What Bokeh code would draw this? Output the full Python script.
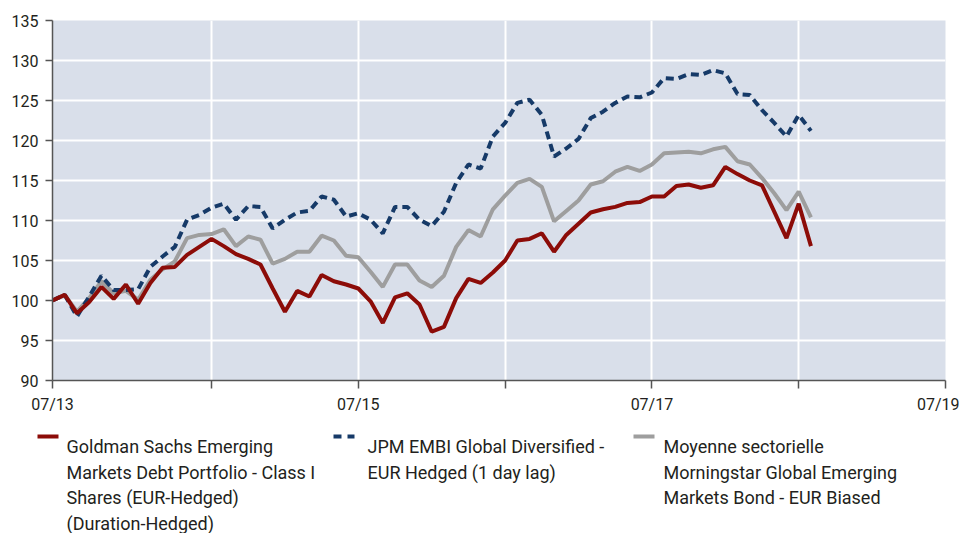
from bokeh.plotting import figure
from bokeh.layouts import column
from bokeh.models import Range1d, FixedTicker
from bokeh.core.properties import value
from bokeh.embed import file_html
from bokeh.resources import INLINE

# Monthly observations (index 0 = start of the period, mid 2013 ... Aug 2018)
months = list(range(63))

fund = [100.0, 100.7, 98.4, 99.8, 101.7, 100.2, 102.0, 99.6, 102.2, 104.1,
        104.2, 105.7, 106.7, 107.7, 106.8, 105.8, 105.2, 104.5, 101.5, 98.6,
        101.2, 100.5, 103.2, 102.4, 102.0, 101.5, 99.9, 97.2, 100.4, 100.9,
        99.5, 96.1, 96.7, 100.3, 102.7, 102.2, 103.5, 105.0, 107.5, 107.7,
        108.4, 106.1, 108.2, 109.6, 111.0, 111.4, 111.7, 112.2, 112.3, 113.0,
        113.0, 114.3, 114.5, 114.1, 114.4, 116.7, 115.8, 115.0, 114.4, 111.1,
        107.8, 112.1, 106.8]

index_jpm = [100.0, 100.7, 98.0, 100.5, 103.1, 101.3, 101.3, 101.4, 104.2, 105.5,
             106.7, 110.1, 110.7, 111.6, 112.1, 110.1, 111.8, 111.7, 109.0, 110.1,
             111.0, 111.2, 113.0, 112.6, 110.5, 110.9, 110.1, 108.4, 111.7, 111.7,
             110.1, 109.3, 111.1, 114.7, 117.0, 116.5, 120.5, 122.2, 124.7, 125.1,
             123.2, 118.0, 119.0, 120.2, 122.8, 123.6, 124.7, 125.5, 125.4, 126.0,
             127.8, 127.7, 128.3, 128.2, 128.8, 128.4, 125.8, 125.7, 123.8, 122.2,
             120.5, 123.2, 121.2]

category = [100.0, 100.7, 98.6, 100.3, 102.4, 100.9, 101.2, 100.1, 102.6, 103.9,
            104.9, 107.8, 108.2, 108.3, 108.9, 106.8, 108.0, 107.6, 104.6, 105.2,
            106.1, 106.1, 108.1, 107.5, 105.6, 105.4, 103.6, 101.7, 104.5, 104.5,
            102.5, 101.7, 103.1, 106.7, 108.8, 108.0, 111.4, 113.1, 114.7, 115.2,
            114.2, 109.9, 111.2, 112.5, 114.5, 114.9, 116.1, 116.7, 116.2, 117.0,
            118.4, 118.5, 118.6, 118.4, 118.9, 119.2, 117.4, 117.0, 115.3, 113.4,
            111.3, 113.6, 110.4]

tick_positions = [0, 13, 25, 37, 49, 61, 73]
tick_labels = ["07/13", "", "07/15", "", "07/17", "", "07/19"]
y_ticks = [90, 95, 100, 105, 110, 115, 120, 125, 130, 135]

legend_lines = [
    ["Goldman Sachs Emerging", "Markets Debt Portfolio - Class I",
     "Shares (EUR-Hedged)", "(Duration-Hedged)"],
    ["JPM EMBI Global Diversified -", "EUR Hedged (1 day lag)"],
    ["Moyenne sectorielle", "Morningstar Global Emerging",
     "Markets Bond - EUR Biased"],
]

FONT = "Roboto"
RED = "#8c0c08"
BLUE = "#163a68"
GREY = "#9e9e9e"
TEXT = "#231f20"
colors = [RED, BLUE, GREY]
dashes = ["solid", "8 6", "solid"]

W = 959
p = figure(width=W, height=425, output_backend="svg", toolbar_location=None,
           x_range=Range1d(0, 73), y_range=Range1d(90, 135),
           min_border_left=52, min_border_right=14, min_border_top=20, min_border_bottom=45)
p.background_fill_color = "#d9dfea"
p.border_fill_color = "white"
p.outline_line_color = None

p.line(months, category, line_color=GREY, line_width=4)
p.line(months, index_jpm, line_color=BLUE, line_width=4, line_dash="8 5")
p.line(months, fund, line_color=RED, line_width=4)

p.xaxis.ticker = FixedTicker(ticks=tick_positions)
p.xaxis.major_label_overrides = {t: l for t, l in zip(tick_positions, tick_labels)}
p.yaxis.ticker = FixedTicker(ticks=y_ticks)
p.xaxis.minor_tick_line_color = None
p.yaxis.minor_tick_line_color = None
for ax in (p.xaxis, p.yaxis):
    ax.axis_line_color = "#555555"
    ax.axis_line_width = 1.5
    ax.major_tick_line_color = "#555555"
    ax.major_tick_line_width = 1.5
    ax.major_tick_in = 0
    ax.major_label_text_font = FONT
    ax.major_label_text_font_size = "16px"
    ax.major_label_text_color = TEXT
p.xaxis.major_tick_out = 8
p.yaxis.major_tick_out = 7
p.xaxis.major_label_standoff = 6
p.yaxis.major_label_standoff = 7

p.xgrid.ticker = FixedTicker(ticks=tick_positions)
p.ygrid.ticker = FixedTicker(ticks=y_ticks)
p.grid.grid_line_color = "white"
p.grid.grid_line_width = 2

# Legend strip: a figure whose units are pixels (y grows downward)
H2 = 108
can_unalign = "frame_align" in p.properties()
if can_unalign:
    leg = figure(width=W, height=H2, output_backend="svg", toolbar_location=None,
                 x_range=Range1d(0, W), y_range=Range1d(H2, 0),
                 min_border=0, x_axis_type=None, y_axis_type=None)
    leg.frame_align = False
    p.frame_align = False
else:
    leg = figure(width=W, height=H2, output_backend="svg", toolbar_location=None,
                 x_range=Range1d(52, W - 14), y_range=Range1d(H2, 0),
                 min_border=0, min_border_left=52, min_border_right=14,
                 x_axis_type=None, y_axis_type=None)
leg.grid.visible = False
leg.outline_line_color = None
leg.background_fill_color = "white"
leg.border_fill_color = "white"

swatch_x = [37, 333, 633]
text_x = [66, 367, 663]
first_baseline = 21
line_step = 25.5
for sx, tx, col, dash, lines in zip(swatch_x, text_x, colors, dashes, legend_lines):
    leg.line([sx, sx + 21], [11, 11], line_color=col, line_width=4, line_dash=dash)
    leg.text(x=[tx] * len(lines),
             y=[first_baseline + i * line_step for i in range(len(lines))],
             text=lines, text_font=value(FONT), text_font_size="18px",
             text_color=TEXT, text_baseline="alphabetic", text_align="left")

layout = column(p, leg, spacing=0)
open("out.html", "w").write(file_html(layout, INLINE))
